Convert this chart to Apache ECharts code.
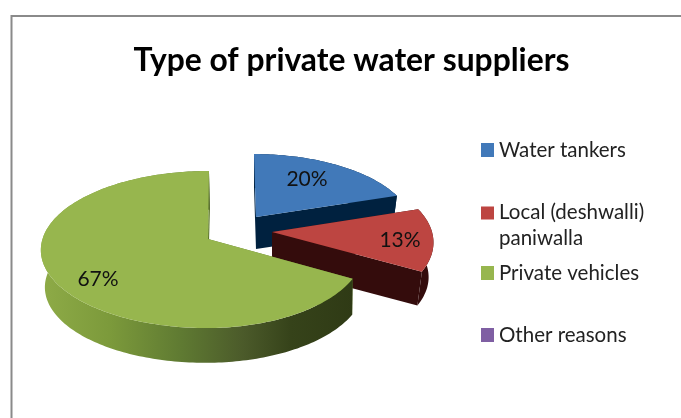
<!DOCTYPE html>
<html>
<head>
<meta charset="utf-8">
<style>html,body{margin:0;padding:0;background:#fff}#chart{width:681px;height:418px}</style>
<script src="https://cdn.jsdelivr.net/npm/echarts@6/dist/echarts.min.js"></script>
</head>
<body>
<div id="chart"></div>
<script>
// Share of households by type of supplier, in percent
const titleText = 'Type of private water suppliers';
const categories = ['Water tankers', 'Local (deshwalli)\npaniwalla', 'Private vehicles', 'Other reasons'];
const shares = [20, 13, 67, 0];
const topColors = ['#4179b9', '#bd4541', '#97b64e', '#7f5fa3'];

// Pseudo-3D projection settings for each wedge: apex position, radii, thickness, perspective
const wedgeStyles = [
  { ax: 256, ay: 217, rxL: 155, rxR: 155, ry: 71.4, depth: 32, sxL: 0.97, sxR: 0.97, sy: 0.97, skew: 2.3, sideSkew: 0, side: '#00213f', cut: '#00213f', labelDx: 51, labelDy: -38 },
  { ax: 272, ay: 232, rxL: 160, rxR: 160, ry: 77, depth: 35, sxL: 0.97, sxR: 0.97, sy: 0.97, skew: 0, sideSkew: 0, side: '#340c0c', cut: '#340c0c', labelDx: 128, labelDy: 8 },
  { ax: 208, ay: 239, rxL: 165.5, rxR: 155, ry: 77.1, depth: 37, sxL: 0.975, sxR: 1, sy: 0.975, skew: -1.1, sideSkew: -1, side: null, cut: '#5f7a2c', labelDx: -110, labelDy: 40 },
  null
];
const tilt = 0.134;

const total = shares.reduce((a, b) => a + b, 0);
const startShare = shares.map((_, i) => shares.slice(0, i).reduce((a, b) => a + b, 0));

function rimPoint(st, angle, lower) {
  const u = Math.sin(angle), v = -Math.cos(angle);
  const w = 1 - tilt * v;
  const rx = u < 0 ? st.rxL : st.rxR;
  const px = (rx * u + st.skew * v) / w;
  const py = st.ry * v / w;
  if (!lower) return [st.ax + px, st.ay + py];
  const s = u < 0 ? st.sxL : st.sxR;
  return [st.ax + s * px + st.sideSkew * v, st.ay + st.depth + st.sy * py];
}

function sampleArc(st, a0, a1, lower) {
  const n = Math.max(2, Math.ceil((a1 - a0) / 0.02));
  const out = [];
  for (let i = 0; i <= n; i++) out.push(rimPoint(st, a0 + (a1 - a0) * i / n, lower));
  return out;
}

function renderWedge(index) {
  return function () {
    const st = wedgeStyles[index];
    if (!st || shares[index] === 0) return { type: 'group', children: [] };
    const a0 = startShare[index] / total * Math.PI * 2;
    const a1 = (startShare[index] + shares[index]) / total * Math.PI * 2;
    const topArc = sampleArc(st, a0, a1, false);
    const lowArc = sampleArc(st, a0, a1, true);
    const apex = [st.ax, st.ay];
    const apexLow = [st.ax, st.ay + st.depth];
    const sideFill = st.side || new echarts.graphic.LinearGradient(41, 0, 353, 0, [
      { offset: 0, color: '#8eab47' },
      { offset: 0.22, color: '#7c9a3b' },
      { offset: 0.45, color: '#5f7a32' },
      { offset: 0.65, color: '#4b5a2a' },
      { offset: 0.8, color: '#36431a' },
      { offset: 1, color: '#2f3a15' }
    ], true);
    return {
      type: 'group',
      children: [
        { type: 'polygon', silent: true, shape: { points: [apex, topArc[0], lowArc[0], apexLow] }, style: { fill: st.cut } },
        { type: 'polygon', silent: true, shape: { points: [apex, topArc[topArc.length - 1], lowArc[lowArc.length - 1], apexLow] }, style: { fill: st.cut } },
        { type: 'polygon', silent: true, shape: { points: topArc.concat(lowArc.slice().reverse()) }, style: { fill: sideFill } },
        { type: 'polygon', silent: true, shape: { points: [apex].concat(topArc) }, style: { fill: topColors[index] } },
        { type: 'text', silent: true, style: {
            x: st.ax + st.labelDx, y: st.ay + st.labelDy, text: shares[index] + '%',
            fill: '#111', font: '21px Lato', align: 'center', verticalAlign: 'middle'
        } }
      ]
    };
  };
}

const legendTops = [132, 194.5, 255, 317];
const legendHeights = [14, 38, 14, 14];

const option = {
  animation: false,
  backgroundColor: '#fff',
  title: {
    text: titleText, left: 346.5, top: 40, textAlign: 'center',
    textStyle: { fontFamily: 'Lato', fontWeight: 'bold', fontSize: 31.8, color: '#000' }
  },
  legend: categories.map((name, i) => ({
    data: [name], left: 476, top: legendTops[i], orient: 'vertical', selectedMode: false,
    itemWidth: 13, itemHeight: legendHeights[i], itemGap: 0,
    icon: legendHeights[i] > 14 ? 'path://M0 0H13V13H0Z M0 38H13' : 'rect',
    textStyle: { fontFamily: 'Lato', fontSize: 20.5, color: '#222', lineHeight: 26 }
  })),
  graphic: [{
    type: 'polyline', silent: true,
    shape: { points: [[11.5, 418], [11.5, 16], [681, 16]] },
    style: { stroke: '#8a8a8a', lineWidth: 2, fill: null }
  }],
  series: categories.map((name, i) => ({
    type: 'custom', name, coordinateSystem: 'none',
    data: [[shares[i]]], itemStyle: { color: topColors[i] },
    renderItem: renderWedge(i), silent: true
  }))
};

echarts.init(document.getElementById('chart')).setOption(option);
</script>
</body>
</html>
